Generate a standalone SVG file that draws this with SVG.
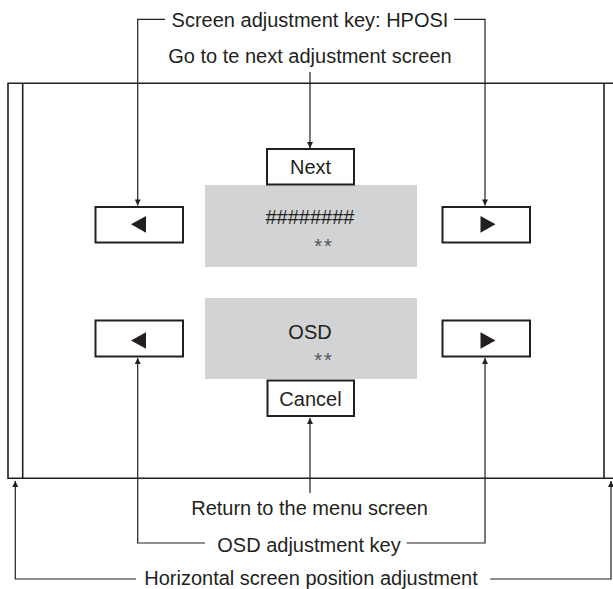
<svg xmlns="http://www.w3.org/2000/svg" width="613" height="589" viewBox="0 0 613 589">
<defs>
<style>
text{font-family:"Liberation Sans",Arial,sans-serif;font-size:20px;fill:#231f20;text-anchor:middle}
.box{fill:#fff;stroke:#231f20;stroke-width:2}
.scr{fill:#d1d3d4;stroke:none}
.frame{fill:none;stroke:#231f20;stroke-width:1.6}
.ln{fill:none;stroke:#231f20;stroke-width:1.2}
.tri{fill:#231f20}
.st{fill:#555;letter-spacing:2px}
</style>
<marker id="ah" viewBox="0 0 10 10" refX="10" refY="5" markerWidth="10" markerHeight="6" markerUnits="userSpaceOnUse" orient="auto">
<path d="M0,0 L10,5 L0,10 Z" fill="#231f20"/>
</marker>
</defs>
<rect width="613" height="589" fill="#fff"/>
<g id="frame">
<path class="frame" d="M620,83.3 H8 V478.3 H620"/>
<line class="frame" x1="22.7" y1="83.3" x2="22.7" y2="478.3"/>
<line class="frame" x1="604" y1="83.3" x2="604" y2="478.3"/>
</g>
<g id="screen-top">
<rect class="scr" x="205" y="185" width="212" height="82"/>
<text x="310" y="224">########</text>
<text class="st" x="324" y="253">**</text>
</g>
<g id="screen-bottom">
<rect class="scr" x="205" y="298" width="212" height="81"/>
<text x="310" y="339">OSD</text>
<text class="st" x="324" y="367">**</text>
</g>
<g id="next">
<rect class="box" x="267" y="149" width="87" height="35.5"/>
<text x="310.5" y="173.5">Next</text>
</g>
<g id="cancel">
<rect class="box" x="267.5" y="380.5" width="86.5" height="35.5"/>
<text x="310.5" y="405.5">Cancel</text>
</g>
<g id="left-top">
<rect class="box" x="95.5" y="207" width="87.5" height="35.5"/>
<path class="tri" d="M131,224.3 L146,216 L146,232.7 Z"/>
</g>
<g id="right-top">
<rect class="box" x="442.5" y="207" width="87.5" height="35.5"/>
<path class="tri" d="M495.5,224.3 L480.5,216 L480.5,232.7 Z"/>
</g>
<g id="left-bottom">
<rect class="box" x="95.5" y="320.5" width="87.5" height="36"/>
<path class="tri" d="M131,340.5 L146,332.3 L146,348.8 Z"/>
</g>
<g id="right-bottom">
<rect class="box" x="442.5" y="320.5" width="87.5" height="36"/>
<path class="tri" d="M495.5,340.5 L480.5,332.3 L480.5,348.8 Z"/>
</g>
<g id="labels">
<text x="310" y="27">Screen adjustment key: HPOSI</text>
<text x="310" y="63">Go to te next adjustment screen</text>
<text x="309.6" y="515">Return to the menu screen</text>
<text x="309" y="551.5">OSD adjustment key</text>
<text x="311" y="584.5">Horizontal screen position adjustment</text>
</g>
<g id="connectors">
<path class="ln" d="M165,19.3 H137.7 V205.5" marker-end="url(#ah)"/>
<path class="ln" d="M454,19.3 H485 V205.5" marker-end="url(#ah)"/>
<path class="ln" d="M310,72 V148" marker-end="url(#ah)"/>
<path class="ln" d="M310,493 V418" marker-end="url(#ah)"/>
<path class="ln" d="M205,543 H137.7 V358" marker-end="url(#ah)"/>
<path class="ln" d="M406.6,543 H485 V358" marker-end="url(#ah)"/>
<path class="ln" d="M136,579 H15.3 V481" marker-end="url(#ah)"/>
<path class="ln" d="M490.3,579 H611 V481" marker-end="url(#ah)"/>
</g>
</svg>
